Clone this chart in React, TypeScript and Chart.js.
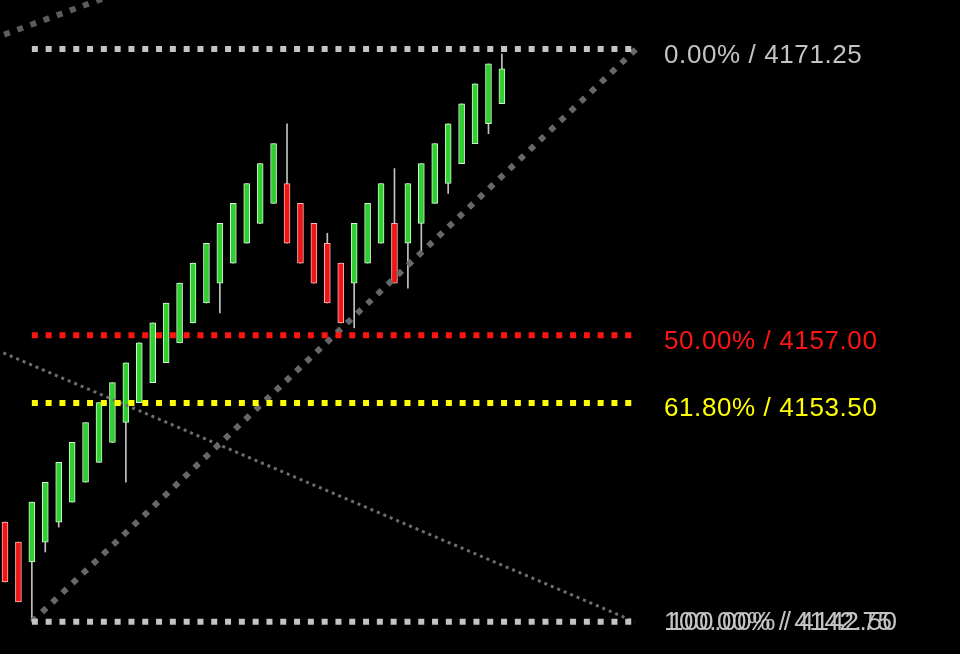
import React, { useEffect, useRef } from "react";
import { Chart, registerables } from "chart.js";

Chart.register(...registerables);

// ---- candle data (one entry per bar, left to right) ----
const opens = [
  4147.75, 4146.75, 4145.75, 4146.75, 4147.75, 4148.75, 4149.75, 4150.75, 4151.75, 4152.75,
  4153.75, 4154.75, 4155.75, 4156.75, 4157.75, 4158.75, 4159.75, 4160.75, 4161.75, 4162.75,
  4163.75, 4164.75, 4163.75, 4162.75, 4161.75, 4160.75, 4159.75, 4160.75, 4161.75, 4162.75,
  4161.75, 4162.75, 4163.75, 4164.75, 4165.75, 4166.75, 4167.75, 4168.75,
];
const closes = [
  4144.75, 4143.75, 4148.75, 4149.75, 4150.75, 4151.75, 4152.75, 4153.75, 4154.75, 4155.75,
  4156.75, 4157.75, 4158.75, 4159.75, 4160.75, 4161.75, 4162.75, 4163.75, 4164.75, 4165.75,
  4166.75, 4161.75, 4160.75, 4159.75, 4158.75, 4157.75, 4162.75, 4163.75, 4164.75, 4159.75,
  4164.75, 4165.75, 4166.75, 4167.75, 4168.75, 4169.75, 4170.75, 4170.5,
];
const highs = [
  4147.75, 4146.75, 4148.75, 4149.75, 4150.75, 4151.75, 4152.75, 4153.75, 4154.75, 4155.75,
  4156.75, 4157.75, 4158.75, 4159.75, 4160.75, 4161.75, 4162.75, 4163.75, 4164.75, 4165.75,
  4166.75, 4167.75, 4163.75, 4162.75, 4162.25, 4160.75, 4162.75, 4163.75, 4164.75, 4165.5,
  4164.75, 4165.75, 4166.75, 4167.75, 4168.75, 4169.75, 4170.75, 4171.25,
];
const lows = [
  4144.75, 4143.75, 4142.75, 4146.25, 4147.5, 4148.75, 4149.75, 4150.75, 4151.75, 4149.75,
  4153.75, 4154.75, 4155.75, 4156.75, 4157.75, 4158.75, 4158.25, 4160.75, 4161.75, 4162.75,
  4163.75, 4161.75, 4160.75, 4159.75, 4158.75, 4157.75, 4157.5, 4160.75, 4161.75, 4159.75,
  4159.5, 4161.25, 4163.75, 4164.25, 4165.75, 4166.75, 4167.25, 4168.75,
];

// ---- Fibonacci retracement ----
const fibHigh = 4171.5;
const fibLow = 4142.75;
const fibRatios = [0, 0.5, 0.618, 1];
const fibLabels = ["0.00% / 4171.25", "50.00% / 4157.00", "61.80% / 4153.50", "100.00% / 4142.75"];
const fibExtraLabel = "100.00% / 4142.50";
const fibColors = ["#c4c4c4", "#ff1414", "#ffff00", "#c4c4c4"];
const fibStartIndex = 2;
const fibEndIndex = 47;
const fibLabelIndex = 49.07;

// ---- drawn trend lines: [index, price] pairs ----
const trendLine = [[2, 4142.75], [47, 4171.5]];
const upperLine = [[-3, 4171.5], [10, 4174.7]];
const thinLine = [[-3, 4157.07], [46.9, 4142.75]];

// ---- visible window ----
const xMin = -0.372;
const xMax = 71.11;
const yMin = 4141.13;
const yMax = 4173.96;

const toPts = (pairs: number[][]) => pairs.map(([x, y]) => ({ x, y }));

export default function App() {
  const ref = useRef<HTMLCanvasElement | null>(null);

  useEffect(() => {
    const canvas = ref.current;
    if (!canvas) return;

    const up = opens.map((o, i) => closes[i] >= o);

    const labelPlugin = {
      id: "fibLabels",
      afterDatasetsDraw(chart: any) {
        const ctx = chart.ctx;
        const xs = chart.scales.x;
        const ys = chart.scales.y;
        const x = xs.getPixelForValue(fibLabelIndex);
        ctx.save();
        ctx.font = '26px "Liberation Sans", Arial, sans-serif';
        try { (ctx as any).letterSpacing = "0.6px"; } catch (e) {}
        ctx.textBaseline = "alphabetic";
        ctx.textAlign = "left";
        fibRatios.forEach((r, i) => {
          const level = fibHigh - r * (fibHigh - fibLow);
          const y = Math.min(ys.getPixelForValue(level) + 13.5, chart.height - 24);
          ctx.fillStyle = fibColors[i];
          ctx.fillText(fibLabels[i], x, y);
          if (i === fibRatios.length - 1) {
            ctx.fillText(fibExtraLabel, x + 5, y);
          }
        });
        ctx.restore();
      },
    };

    const fibDatasets = fibRatios.map((r, i) => {
      const level = fibHigh - r * (fibHigh - fibLow);
      return {
        type: "line" as const,
        data: [
          { x: fibStartIndex, y: level },
          { x: fibEndIndex, y: level },
        ],
        borderColor: fibColors[i],
        borderWidth: 6,
        borderDash: [6, 7.8],
        borderCapStyle: "butt" as const,
        pointRadius: 0,
        fill: false,
        order: 0,
      };
    });

    const chart = new Chart(canvas, {
      type: "bar",
      data: {
        datasets: [
          ...fibDatasets,
          {
            type: "line",
            data: toPts(trendLine),
            borderColor: "#676767",
            borderWidth: 6,
            borderDash: [6, 8],
            borderCapStyle: "butt",
            pointRadius: 0,
            fill: false,
            order: 0,
          },
          {
            type: "line",
            data: toPts(upperLine),
            borderColor: "#5c5c5c",
            borderWidth: 6,
            borderDash: [6, 8],
            borderCapStyle: "butt",
            pointRadius: 0,
            fill: false,
            order: 0,
          },
          {
            type: "line",
            data: toPts(thinLine),
            borderColor: "#6e6e6e",
            borderWidth: 3,
            borderDash: [3, 4],
            borderCapStyle: "butt",
            pointRadius: 0,
            fill: false,
            order: 0,
          },
          {
            type: "bar",
            data: opens.map((o, i) => ({ x: i, y: [o, closes[i]] })) as any,
            backgroundColor: up.map((u) => (u ? "#2fcf2f" : "#f01414")),
            borderColor: up.map((u) => (u ? "#d8f5d8" : "#ffb4b4")),
            borderWidth: 1,
            borderSkipped: false,
            barThickness: 6,
            grouped: false,
            order: 1,
          },
          {
            type: "bar",
            data: lows.map((l, i) => ({ x: i, y: [l, highs[i]] })) as any,
            backgroundColor: "#c2c2c2",
            borderWidth: 0,
            barThickness: 1,
            grouped: false,
            order: 2,
          },
        ] as any,
      },
      options: {
        responsive: false,
        animation: false,
        layout: { padding: 0 },
        plugins: {
          legend: { display: false },
          tooltip: { enabled: false },
        },
        scales: {
          x: { type: "linear", min: xMin, max: xMax, display: false, offset: false },
          y: { type: "linear", min: yMin, max: yMax, display: false },
        },
      },
      plugins: [labelPlugin],
    });

    return () => chart.destroy();
  }, []);

  return (
    <div
      style={{
        position: "fixed",
        left: 0,
        top: 0,
        width: 960,
        height: 654,
        background: "#000",
        overflow: "hidden",
      }}
    >
      <canvas ref={ref} width={960} height={654} style={{ display: "block" }} />
    </div>
  );
}
